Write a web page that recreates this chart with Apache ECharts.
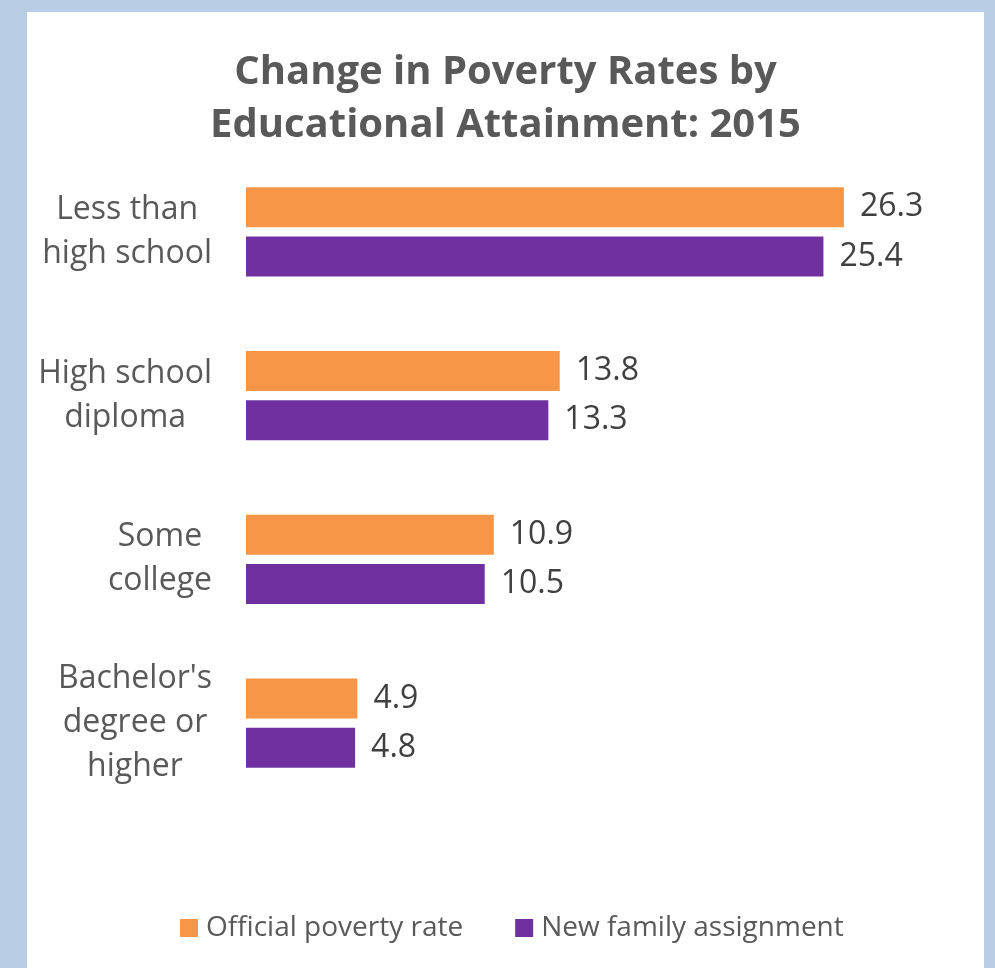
<!DOCTYPE html>
<html>
<head>
<meta charset="utf-8">
<script src="https://cdn.jsdelivr.net/npm/echarts@6/dist/echarts.min.js"></script>
<style>
  html, body { margin: 0; padding: 0; width: 995px; height: 968px; background: #b9cde5; overflow: hidden; }
  #chart { position: absolute; left: 27px; top: 12px; width: 957px; height: 956px; background: #ffffff; }
</style>
</head>
<body>
<div id="chart"></div>
<script>
// Education levels, top to bottom
const categories = [
  "Less than\nhigh school",
  "High school\ndiploma",
  "Some\ncollege",
  "Bachelor's\ndegree or\nhigher"
];
const seriesNames = ["Official poverty rate", "New family assignment"];
const officialRate = [26.3, 13.8, 10.9, 4.9];
const newFamilyRate = [25.4, 13.3, 10.5, 4.8];

const FONT = "'Open Sans', 'Noto Sans', sans-serif";
const chart = echarts.init(document.getElementById('chart'), null, { renderer: 'canvas' });

// Each category label is a block aligned to the axis, with its lines centred inside it
function categoryLabel(value) {
  return value.split('\n').map(line => '{c|' + line + '}').join('\n');
}

const valueLabel = {
  show: true,
  position: 'right',
  distance: 16,
  color: '#404040',
  fontFamily: FONT,
  fontSize: 32,
  formatter: p => p.value.toFixed(1)
};

chart.setOption({
  animation: false,
  title: {
    text: 'Change in Poverty Rates by\nEducational Attainment: 2015',
    left: 'center',
    top: 29,
    textStyle: {
      color: '#595959',
      fontFamily: FONT,
      fontWeight: 'bold',
      fontSize: 40,
      lineHeight: 53
    }
  },
  legend: {
    data: seriesNames,
    bottom: 21,
    left: 148,
    itemWidth: 18,
    itemHeight: 18,
    itemGap: 52,
    icon: 'rect',
    textStyle: { color: '#595959', fontFamily: FONT, fontSize: 28, padding: [0, 0, 0, 3] }
  },
  grid: { left: 219, top: 138, width: 682, height: 655, containLabel: false },
  xAxis: {
    type: 'value',
    min: 0,
    max: 30,
    show: false
  },
  yAxis: {
    type: 'category',
    data: categories,
    inverse: true,
    axisLine: { show: false },
    axisTick: { show: false },
    axisLabel: {
      margin: 34,
      align: 'right',
      color: '#595959',
      fontFamily: FONT,
      fontSize: 32,
      lineHeight: 44,
      formatter: categoryLabel,
      rich: {
        c: { align: 'center', color: '#595959', fontFamily: FONT, fontSize: 32, lineHeight: 44 }
      }
    }
  },
  series: [
    {
      name: seriesNames[0],
      type: 'bar',
      data: officialRate,
      barWidth: 40,
      barGap: '23%',
      itemStyle: { color: '#f79646' },
      label: valueLabel
    },
    {
      name: seriesNames[1],
      type: 'bar',
      data: newFamilyRate,
      barWidth: 40,
      itemStyle: { color: '#7030a0' },
      label: valueLabel
    }
  ]
});
</script>
</body>
</html>
